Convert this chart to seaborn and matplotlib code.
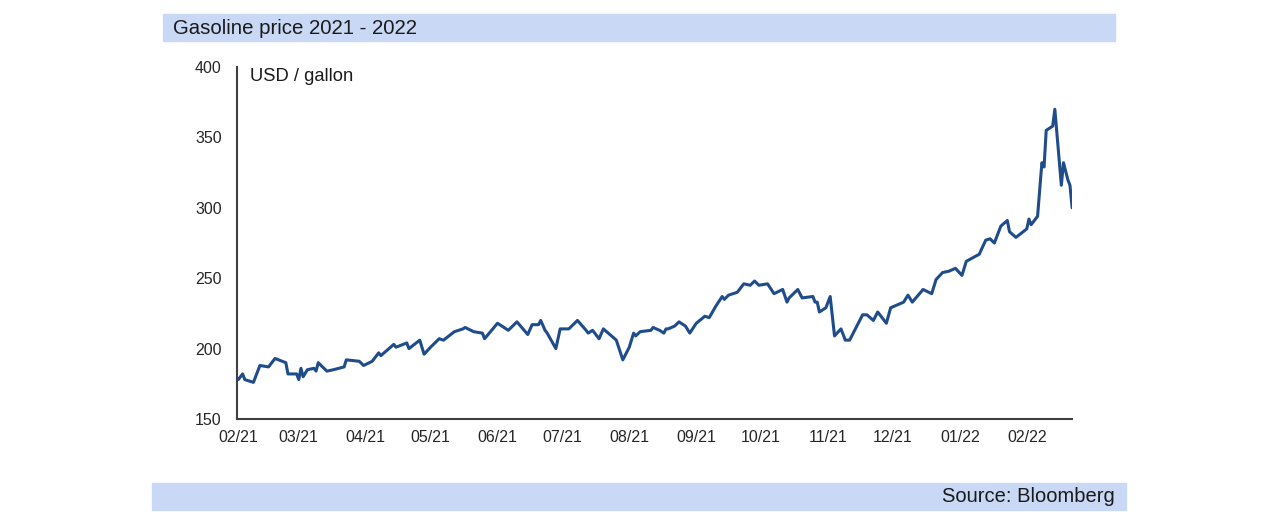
import pandas as pd
import numpy as np
import seaborn as sb
import matplotlib.pyplot as plt
import matplotlib.dates as mdates
from matplotlib.patches import Rectangle

# data: day offsets from the start date and price (US cents / gallon)
start_date = "2021-02-01"
days = [0, 2, 3, 7, 10, 14, 17, 22, 23, 27, 28, 29, 30, 32, 35, 36, 37, 41, 44, 49,
        50, 56, 58, 62, 65, 66, 72, 73, 78, 79, 84, 86, 89, 93, 95, 100, 104, 105, 109, 113,
        114, 120, 125, 129, 134, 136, 139, 140, 142, 143, 147, 149, 153, 157, 161, 162, 164, 167, 169, 175,
        178, 181, 183, 184, 186, 191, 192, 195, 197, 198, 199, 202, 204, 207, 209, 212, 216, 218, 221, 224,
        225, 227, 231, 234, 237, 239, 241, 245, 248, 252, 254, 255, 259, 261, 266, 267, 268, 269, 272, 274,
        276, 279, 281, 283, 289, 291, 294, 296, 300, 302, 305, 308, 310, 312, 317, 321, 323, 326, 329, 332,
        335, 337, 343, 346, 348, 350, 353, 356, 357, 360, 365, 366, 367, 370, 372, 373, 374, 377, 378, 381,
        382, 384, 385, 386]
price = [178, 182, 178, 176, 188, 187, 193, 190, 182, 182, 178, 186, 180, 185, 186, 184, 190, 184, 185, 187,
         192, 191, 188, 191, 197, 195, 203, 201, 204, 200, 206, 196, 201, 207, 206, 212, 214, 215, 212, 211,
         207, 218, 213, 219, 210, 217, 217, 220, 213, 211, 200, 214, 214, 220, 213, 211, 213, 207, 214, 206,
         192, 201, 211, 209, 212, 213, 215, 213, 211, 214, 214, 216, 219, 216, 211, 218, 223, 222, 230, 237,
         235, 238, 240, 246, 245, 248, 245, 246, 239, 242, 233, 236, 242, 236, 237, 233, 233, 226, 229, 237,
         209, 214, 206, 206, 224, 224, 220, 226, 218, 229, 231, 233, 238, 233, 242, 239, 249, 254, 255, 257,
         252, 262, 267, 277, 278, 275, 287, 291, 283, 279, 285, 292, 288, 294, 332, 329, 355, 358, 370, 316,
         332, 320, 316, 300]

y_ticks = [150, 200, 250, 300, 350, 400]
title = "Gasoline price 2021 - 2022"
unit_label = "USD / gallon"
source = "Source: Bloomberg"

# building the dataframe
data = pd.DataFrame({"date": pd.to_datetime(start_date) + pd.to_timedelta(days, unit="D"),
                     "price": price})

# style and fonts
sb.set_style("white")
plt.rcParams['font.family'] = ['Liberation Sans', 'DejaVu Sans']

fig = plt.figure(figsize=(12.88, 5.27), dpi=100)

# title bar and source bar
bar_color = "#c9d8f5"
fig.patches.append(Rectangle((163 / 1288, 1 - 41 / 527), (1115 - 163) / 1288, 27 / 527,
                             transform=fig.transFigure, color=bar_color, zorder=0))
fig.patches.append(Rectangle((152 / 1288, 1 - 510 / 527), (1126 - 152) / 1288, 27 / 527,
                             transform=fig.transFigure, color=bar_color, zorder=0))
fig.text(173 / 1288, 1 - 28 / 527, title, fontsize=14.7, color="#1a1a1a", va="center", ha="left")
fig.text(1115 / 1288, 1 - 496 / 527, source, fontsize=14.5, color="#1a1a1a", va="center", ha="right")

# the chart
ax = fig.add_axes([237 / 1288, 1 - 419 / 527, (1071.7 - 237) / 1288, (419 - 67) / 527])
sb.lineplot(data=data, x="date", y="price", ax=ax, color="#1f4c8a", linewidth=2.2)

start = pd.to_datetime(start_date)
ax.set_xlim(start - pd.Timedelta(days=0.6), start + pd.Timedelta(days=385.8))
ax.set_ylim(150, 400)
ax.set_yticks(y_ticks)
ax.xaxis.set_major_locator(mdates.MonthLocator())
ax.xaxis.set_major_formatter(mdates.DateFormatter("%m/%y"))
ax.tick_params(axis="x", length=0, pad=8, labelsize=11.5, labelcolor="#262626")
ax.tick_params(axis="y", length=0, pad=11, labelsize=11.5, labelcolor="#262626")
ax.set_xlabel("")
ax.set_ylabel("")

# only left and bottom spines
for side in ["top", "right"]:
    ax.spines[side].set_visible(False)
for side in ["left", "bottom"]:
    ax.spines[side].set_color("#404040")
    ax.spines[side].set_linewidth(1.5)

ax.text(0.016, 0.972, unit_label, transform=ax.transAxes, fontsize=13.2, color="#1a1a1a",
        va="center", ha="left")

plt.savefig("out.png", dpi=100)
